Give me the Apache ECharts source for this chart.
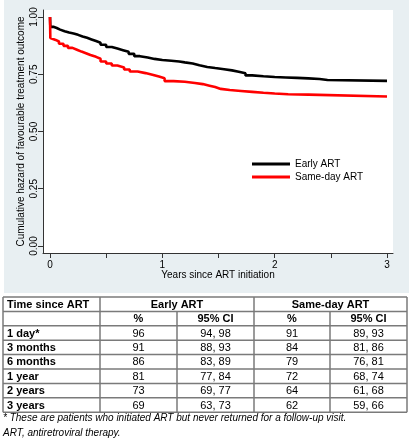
<!DOCTYPE html>
<html><head><meta charset="utf-8">
<script src="https://cdn.jsdelivr.net/npm/echarts@6/dist/echarts.min.js"></script>
<style>
html,body{margin:0;padding:0;background:#fff;}
#wrap{position:relative;width:409px;height:440px;}
#panel{position:absolute;left:4px;top:0;width:405px;height:293px;background:#e8eff2;}
#chart{position:absolute;left:0;top:0;width:409px;height:440px;}
</style></head>
<body><div id="wrap"><div id="panel"></div><div id="chart"></div></div>
<script>
// ---- Curve data ----
var earlyT = [0,0.003,0.03,0.06,0.09,0.13,0.17,0.21,0.25,0.29,0.33,0.37,0.41,0.45,0.5,0.55,0.6,0.65,0.7,0.75,0.8,0.87,0.93,1.0,1.08,1.15,1.2,1.27,1.33,1.4,1.47,1.55,1.62,1.68,1.74,1.8,1.9,2.0,2.1,2.2,2.3,2.4,2.47,3.0];
var earlyS = [1.0,0.957,0.952,0.945,0.938,0.932,0.928,0.922,0.915,0.909,0.902,0.895,0.888,0.879,0.869,0.862,0.855,0.848,0.839,0.829,0.823,0.817,0.812,0.809,0.806,0.802,0.797,0.789,0.782,0.777,0.772,0.767,0.761,0.754,0.745,0.741,0.738,0.736,0.734,0.732,0.729,0.725,0.721,0.721];
var sameT = [0,0.003,0.02,0.05,0.08,0.12,0.16,0.2,0.24,0.28,0.32,0.36,0.41,0.45,0.5,0.55,0.6,0.66,0.71,0.78,0.85,0.92,0.97,1.02,1.1,1.2,1.29,1.36,1.42,1.47,1.52,1.6,1.7,1.8,1.9,2.0,2.12,2.3,3.0];
var sameS = [1.0,0.908,0.9,0.893,0.883,0.874,0.865,0.857,0.849,0.842,0.834,0.826,0.818,0.806,0.797,0.788,0.78,0.771,0.762,0.755,0.747,0.74,0.733,0.72,0.717,0.712,0.707,0.7,0.694,0.686,0.681,0.677,0.673,0.669,0.666,0.663,0.661,0.653,0.653];
var seriesNames = ['Early ART','Same-day ART'];
var xTicks = [0,0.5,1,1.5,2,2.5,3];
var xLabels = [0,1,2,3];
var yTicks = [0,0.25,0.5,0.75,1];
// ---- Table data ----
var tableHeader = ['Time since ART','Early ART','Same-day ART'];
var subHeader = ['','%','95% CI','%','95% CI'];
var timePoints = ['1 day*','3 months','6 months','1 year','2 years','3 years'];
var earlyPct = ['96','91','86','81','73','69'];
var earlyCI = ['94, 98','88, 93','83, 89','77, 84','69, 77','63, 73'];
var samePct = ['91','84','79','72','64','62'];
var sameCI = ['89, 93','81, 86','76, 81','68, 74','61, 68','59, 66'];
var footnotes = ['* These are patients who initiated ART but never returned for a follow-up visit.','ART, antiretroviral therapy.'];

var FONT = '"Liberation Sans", Arial, sans-serif';
function pairs(t,s){return t.map(function(v,i){return [v,s[i]];});}

// table geometry
var colX = [3,100,177,254,330,407];
var rowTop = 297, rowH = 14.4, nRows = 8;
var g = [];
function hline(y,x1,x2){g.push({type:'line',shape:{x1:x1,y1:y,x2:x2,y2:y},style:{stroke:'#7a7a7a',lineWidth:1.5},silent:true});}
function vline(x,y1,y2){g.push({type:'line',shape:{x1:x,y1:y1,x2:x,y2:y2},style:{stroke:'#7a7a7a',lineWidth:1.5},silent:true});}
function txt(s,x,y,align,bold,italic,size){g.push({type:'text',x:x,y:y,style:{text:s,fill:'#000',font:(italic?'italic ':'')+(bold?'bold ':'')+(size||11)+'px '+FONT,textAlign:align,textVerticalAlign:'middle'},silent:true});}
var tableBottom = rowTop + rowH*nRows;
for (var r=0;r<=nRows;r++) hline(rowTop+rowH*r, colX[0], colX[5]);
[0,1,3,5].forEach(function(i){vline(colX[i],rowTop,tableBottom);});
[2,4].forEach(function(i){vline(colX[i],rowTop+rowH,tableBottom);});
function cy(r){return rowTop+rowH*r+rowH/2+0.5;}
function cx(c){return (colX[c]+colX[c+1])/2;}
txt(tableHeader[0],7,cy(0),'left',true);
txt(tableHeader[1],(colX[1]+colX[3])/2,cy(0),'center',true);
txt(tableHeader[2],(colX[3]+colX[5])/2,cy(0),'center',true);
for (var c=1;c<5;c++) txt(subHeader[c],cx(c),cy(1),'center',true);
timePoints.forEach(function(tp,i){
  var r=i+2;
  txt(tp,7,cy(r),'left',true);
  txt(earlyPct[i],cx(1),cy(r),'center',false);
  txt(earlyCI[i],cx(2),cy(r),'center',false);
  txt(samePct[i],cx(3),cy(r),'center',false);
  txt(sameCI[i],cx(4),cy(r),'center',false);
});
txt(footnotes[0],3,418,'left',false,true,10);
txt(footnotes[1],3,433,'left',false,true,10);

var axisCol = '#333';
var chart = echarts.init(document.getElementById('chart'));
chart.setOption({
  animation:false,
  backgroundColor:'transparent',
  grid:{left:43,top:10,width:350,height:243,show:true,backgroundColor:'#fff',borderWidth:0,containLabel:false},
  legend:{data:seriesNames,orient:'vertical',left:247,top:154,icon:'rect',itemWidth:38,itemHeight:3,itemGap:3,
    textStyle:{fontFamily:FONT,fontSize:10,color:'#000'}},
  xAxis:{type:'value',min:-0.0623,max:3.0534,
    name:'Years since ART initiation',nameLocation:'middle',nameGap:17,nameMoveOverlap:false,
    nameTextStyle:{fontFamily:FONT,fontSize:10,color:'#000',verticalAlign:'top'},
    axisLine:{show:true,onZero:false,lineStyle:{color:axisCol,width:1}},
    axisTick:{show:true,length:5,customValues:xTicks,lineStyle:{color:axisCol}},
    axisLabel:{customValues:xLabels,margin:7,fontFamily:FONT,fontSize:10,color:'#000',formatter:function(v){return String(v);}},
    splitLine:{show:false}},
  yAxis:{type:'value',min:-0.0306,max:1.0306,
    name:'Cumulative hazard of favourable treatment outcome',nameLocation:'middle',nameGap:17,nameRotate:90,nameMoveOverlap:false,
    nameTextStyle:{fontFamily:FONT,fontSize:10,color:'#000',verticalAlign:'bottom'},
    axisLine:{show:true,onZero:false,lineStyle:{color:axisCol,width:1}},
    axisTick:{show:true,length:5,customValues:yTicks,lineStyle:{color:axisCol}},
    axisLabel:{customValues:yTicks,rotate:90,margin:4,fontFamily:FONT,fontSize:10,color:'#000',formatter:function(v){return v.toFixed(2);}},
    splitLine:{show:false}},
  series:[
    {name:seriesNames[0],type:'line',step:'end',showSymbol:false,data:pairs(earlyT,earlyS),lineStyle:{color:'#000',width:2.6},itemStyle:{color:'#000'}},
    {name:seriesNames[1],type:'line',step:'end',showSymbol:false,data:pairs(sameT,sameS),lineStyle:{color:'#ff0000',width:2.6},itemStyle:{color:'#ff0000'}}
  ],
  graphic:g
});
</script></body></html>
